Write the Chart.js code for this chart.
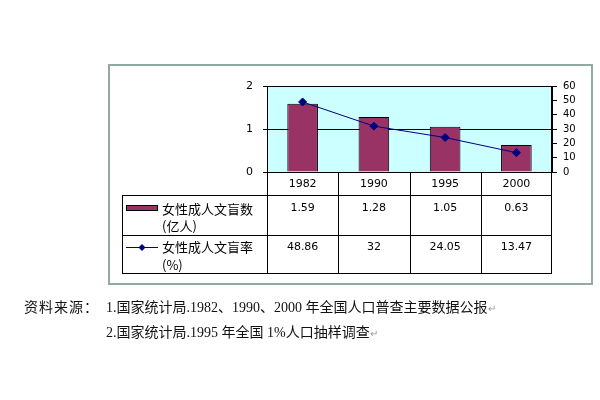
<!DOCTYPE html>
<html>
<head>
<meta charset="utf-8">
<script src="https://cdn.jsdelivr.net/npm/chart.js@4"></script>
<style>
  html, body { margin: 0; padding: 0; background: #fff; }
  #wrap { position: relative; width: 600px; height: 400px; overflow: hidden; }
  #chart { position: absolute; left: 0; top: 0; }
  .note { position: absolute; font-family: "Liberation Serif", "Noto Sans CJK SC", serif; font-size: 14px; color: #111; white-space: nowrap; }
  .note .mark { color: #999; font-size: 10px; }
</style>
</head>
<body>
<div id="wrap">
  <canvas id="chart" width="600" height="400"></canvas>
  <div class="note" style="left:24px; top:296px; letter-spacing:1px;">资料来源：</div>
  <div class="note" style="left:106px; top:296px;">1.国家统计局.1982、1990、2000 年全国人口普查主要数据公报<span class="mark">↵</span></div>
  <div class="note" style="left:106px; top:321px;">2.国家统计局.1995 年全国 1%人口抽样调查<span class="mark">↵</span></div>
</div>
<script>
document.addEventListener("DOMContentLoaded", function(event) {
    // data
    const years = ['1982', '1990', '1995', '2000'];
    const illiterateCount = [1.59, 1.28, 1.05, 0.63];   // 亿人
    const illiterateRate = [48.86, 32, 24.05, 13.47];   // %
    const countLabel = ['女性成人文盲数', '(亿人)'];
    const rateLabel = ['女性成人文盲率', '(%)'];

    const barColor = '#993366';
    const lineColor = '#000080';
    const cjkFont = '"Noto Sans CJK SC", sans-serif';
    const numFont = '"DejaVu Sans", sans-serif';

    // frame + plot background
    const backdrop = {
        id: 'backdrop',
        beforeDraw(chart) {
            const ctx = chart.ctx, a = chart.chartArea;
            ctx.save();
            ctx.strokeStyle = '#93aaa3';
            ctx.lineWidth = 2;
            ctx.strokeRect(109, 65, 483, 219);
            ctx.fillStyle = '#ccffff';
            ctx.fillRect(a.left, a.top, a.right - a.left, a.bottom - a.top);
            ctx.restore();
        }
    };

    // data table under the plot, aligned on the x scale
    const dataTable = {
        id: 'dataTable',
        afterDraw(chart) {
            const ctx = chart.ctx, a = chart.chartArea, x = chart.scales.x;
            const colW = (a.right - a.left) / years.length;
            const rowTop = a.bottom, row1 = 195, row2 = 235, rowEnd = 273, labelLeft = 122;
            ctx.save();
            ctx.strokeStyle = '#000';
            ctx.lineWidth = 1;
            ctx.beginPath();
            // plot top border
            ctx.moveTo(a.left, a.top + 0.5); ctx.lineTo(a.right, a.top + 0.5);
            // column lines
            years.forEach((y, i) => {
                const cx = Math.round(x.getPixelForValue(i) - colW / 2) + 0.5;
                ctx.moveTo(cx, i === 0 ? a.top : rowTop); ctx.lineTo(cx, rowEnd);
            });
            ctx.moveTo(a.right - 0.5, a.top); ctx.lineTo(a.right - 0.5, rowEnd);
            ctx.moveTo(labelLeft + 0.5, row1); ctx.lineTo(labelLeft + 0.5, rowEnd);
            [row1, row2, rowEnd].forEach(r => {
                ctx.moveTo(labelLeft, r + 0.5); ctx.lineTo(a.right, r + 0.5);
            });
            ctx.stroke();

            ctx.fillStyle = '#000';
            ctx.textAlign = 'center';
            ctx.textBaseline = 'middle';
            ctx.font = '11px ' + numFont;
            years.forEach((y, i) => {
                const cx = x.getPixelForValue(i);
                ctx.fillText(y, cx, 184);
                ctx.fillText(illiterateCount[i].toFixed(2), cx, 208);
                ctx.fillText(String(illiterateRate[i]), cx, 247);
            });

            // legend keys
            ctx.fillStyle = barColor;
            ctx.fillRect(126, 205, 32, 6);
            ctx.strokeRect(126.5, 205.5, 31, 5);
            ctx.strokeStyle = lineColor;
            ctx.beginPath();
            ctx.moveTo(126, 247.5); ctx.lineTo(158, 247.5);
            ctx.stroke();
            ctx.fillStyle = lineColor;
            ctx.beginPath();
            ctx.moveTo(142, 244); ctx.lineTo(145.5, 247.5); ctx.lineTo(142, 251); ctx.lineTo(138.5, 247.5);
            ctx.closePath();
            ctx.fill();

            ctx.fillStyle = '#000';
            ctx.textAlign = 'left';
            ctx.font = '13px ' + cjkFont;
            ctx.fillText(countLabel[0], 162, 209);
            ctx.fillText(countLabel[1], 162, 226);
            ctx.fillText(rateLabel[0], 162, 247);
            ctx.fillText(rateLabel[1], 162, 265);
            ctx.restore();
        }
    };

    new Chart(document.getElementById('chart').getContext('2d'), {
        data: {
            labels: years,
            datasets: [{
                type: 'line',
                label: rateLabel.join(''),
                data: illiterateRate,
                yAxisID: 'y1',
                borderColor: lineColor,
                backgroundColor: lineColor,
                borderWidth: 1,
                pointStyle: 'rectRot',
                pointRadius: 4,
                tension: 0,
                order: 0,
            }, {
                type: 'bar',
                label: countLabel.join(''),
                data: illiterateCount,
                yAxisID: 'y',
                backgroundColor: barColor,
                borderColor: '#000',
                borderWidth: 1,
                categoryPercentage: 1,
                barPercentage: 0.43,
                order: 1,
            }]
        },
        options: {
            responsive: false,
            animation: false,
            layout: { padding: { top: 86, bottom: 228, left: 0, right: 0 } },
            plugins: { legend: { display: false }, tooltip: { enabled: false } },
            scales: {
                x: { display: false, offset: true },
                y: {
                    position: 'left',
                    min: 0, max: 2,
                    afterFit: s => { s.width = 267; },
                    ticks: { stepSize: 1, padding: 10, color: '#000', font: { family: numFont, size: 11 } },
                    grid: { color: '#000', tickLength: 4, lineWidth: 1 },
                    border: { color: '#000' },
                },
                y1: {
                    position: 'right',
                    min: 0, max: 60,
                    afterFit: s => { s.width = 48; },
                    ticks: { stepSize: 10, autoSkip: false, padding: 6, color: '#000', font: { family: numFont, size: 10 } },
                    grid: { drawOnChartArea: false, color: '#000', tickLength: 5 },
                    border: { color: '#000' },
                }
            }
        },
        plugins: [backdrop, dataTable]
    });
});
</script>
</body>
</html>
